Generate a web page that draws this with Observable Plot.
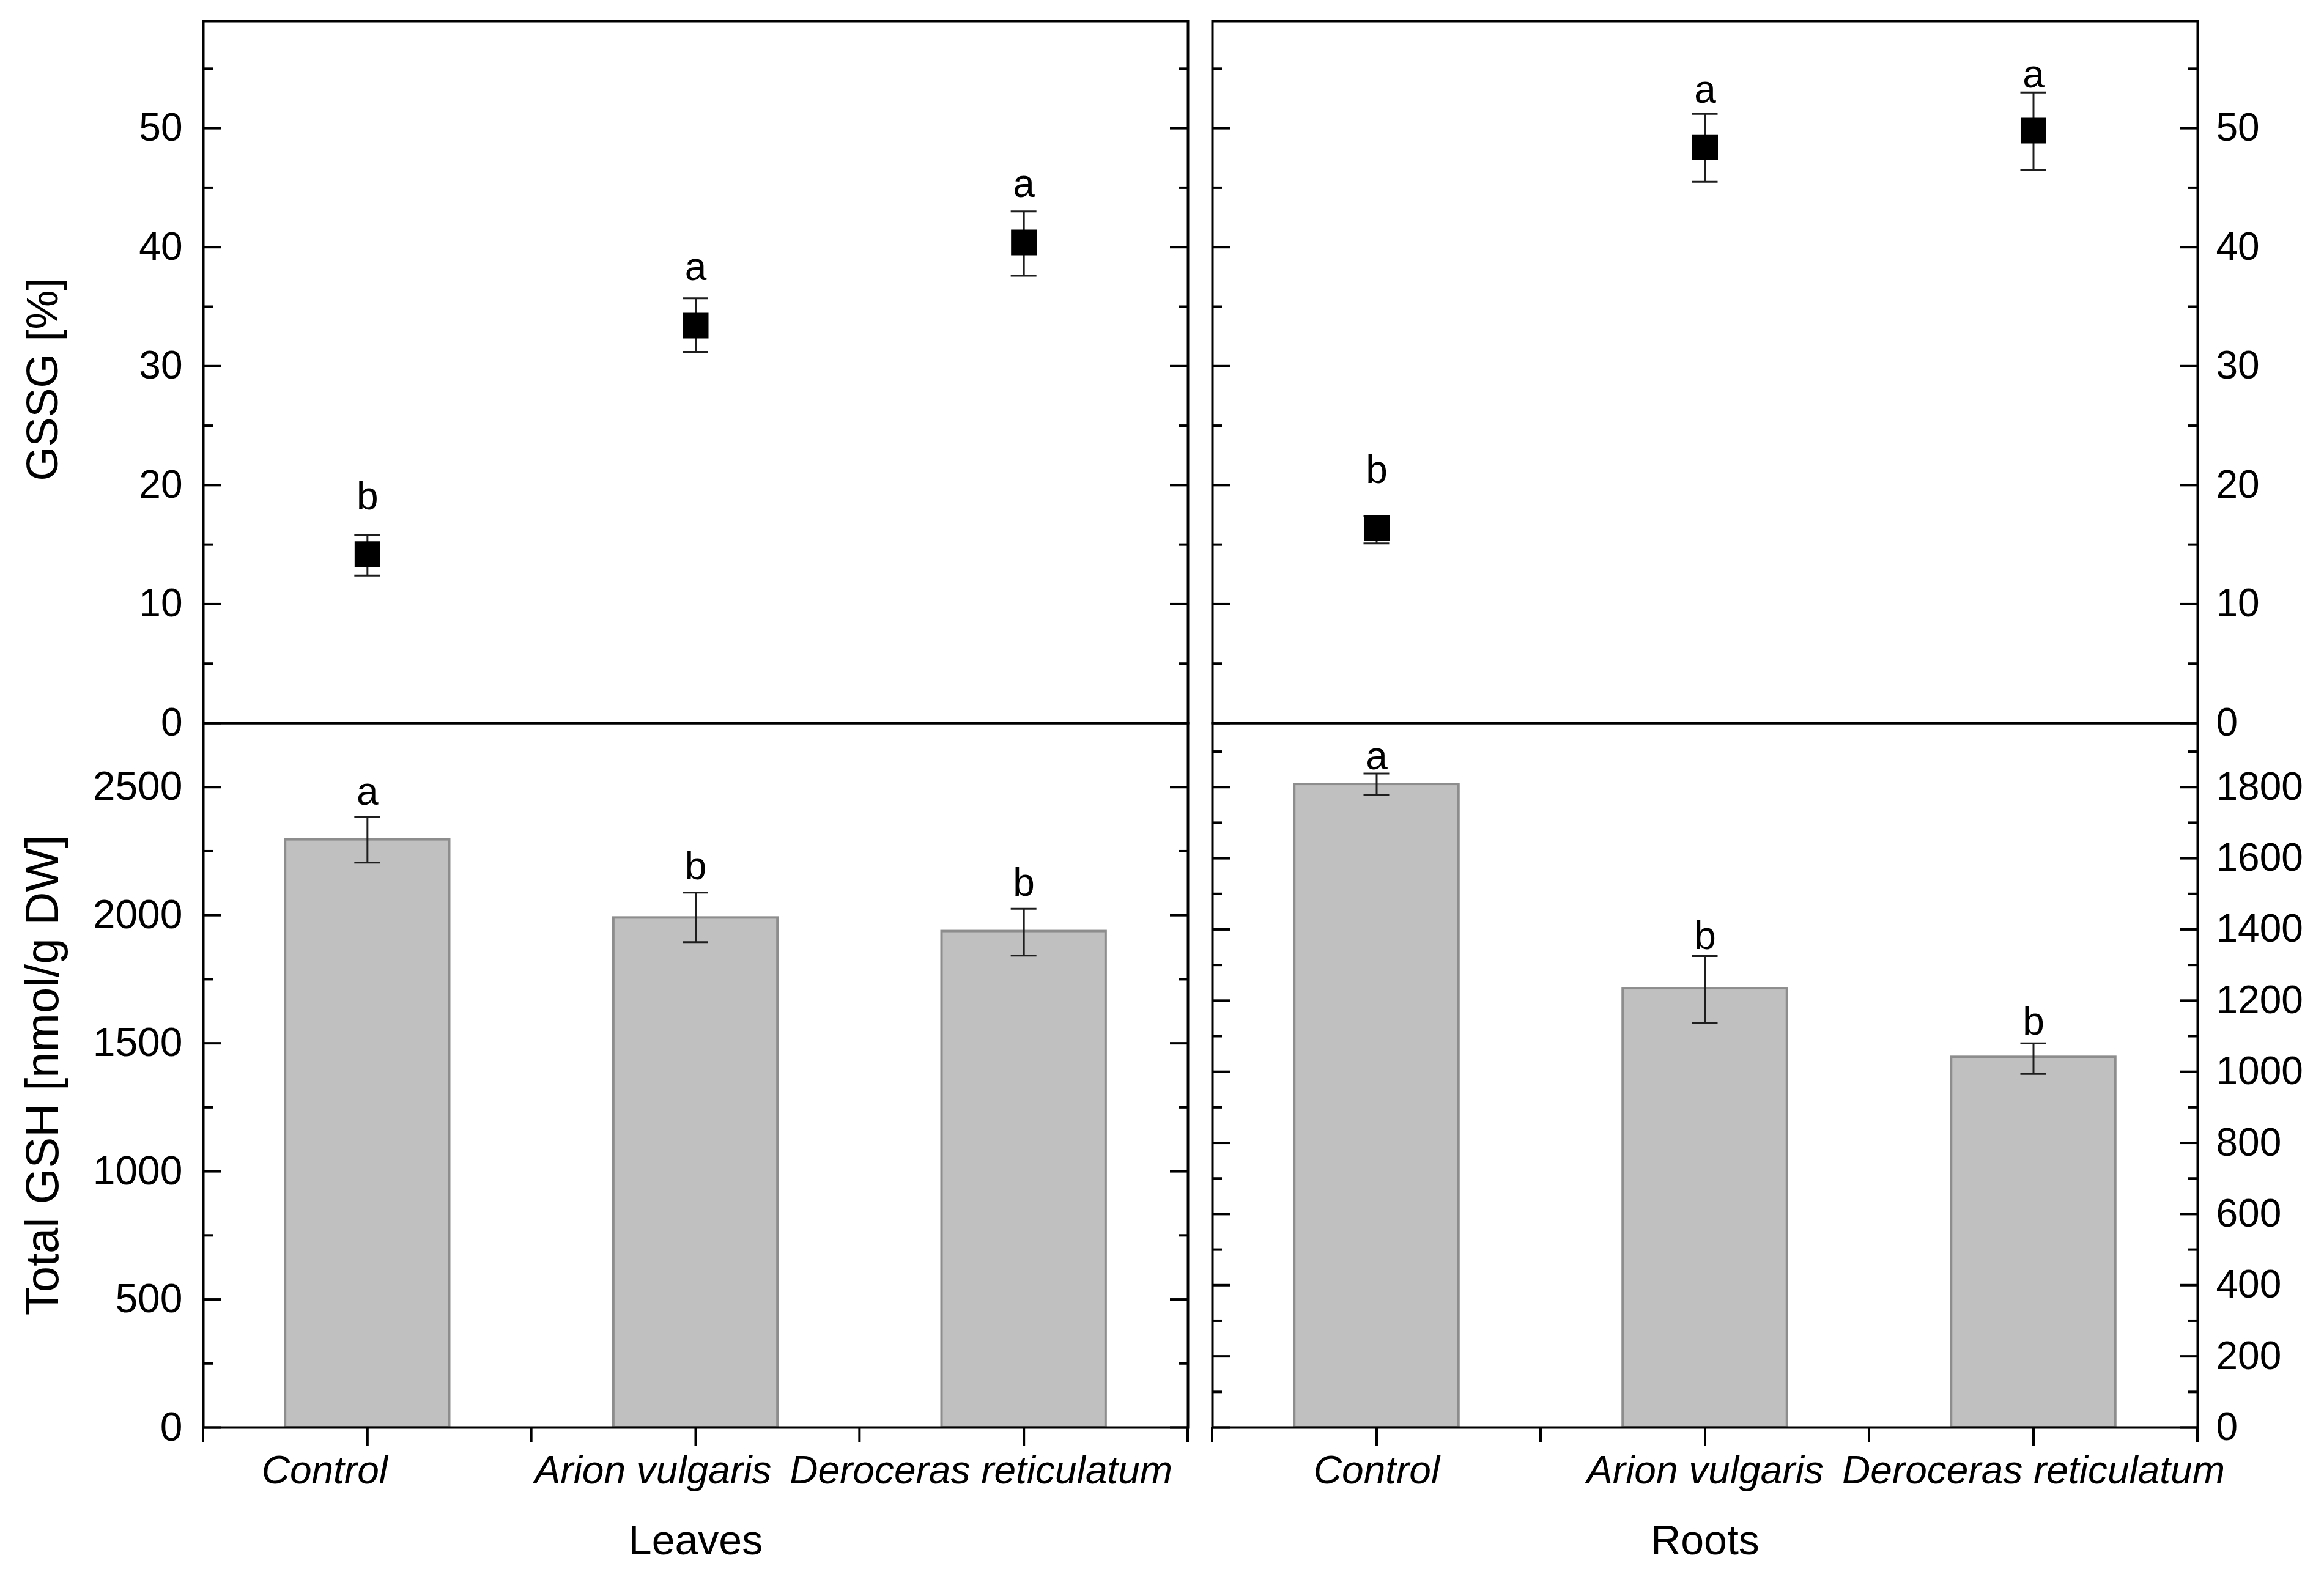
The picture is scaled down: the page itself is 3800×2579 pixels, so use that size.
<!DOCTYPE html>
<html>
<head>
<meta charset="utf-8">
<script src="https://cdn.jsdelivr.net/npm/d3@7"></script>
<script src="https://cdn.jsdelivr.net/npm/@observablehq/plot@0.6"></script>
<style>
  html, body { margin: 0; padding: 0; background: #fff; }
  #fig { position: relative; width: 3800px; height: 2579px; background: #fff; overflow: hidden; }
  #fig svg { position: absolute; }
</style>
</head>
<body>
<div id="fig"></div>
<script>
// ---------- data ----------
const categories = ["Control", "Arion vulgaris", "Deroceras reticulatum"];

// GSSG [%] – leaves (top left)
const gssgLeavesMean = [14.2, 33.4, 40.4];
const gssgLeavesLow  = [12.4, 31.2, 37.6];
const gssgLeavesHigh = [15.8, 35.7, 43.0];
const gssgLeavesLetters = ["b", "a", "a"];
const gssgLeavesLetterAt = [19.0, 38.3, 45.3];

// GSSG [%] – roots (top right)
const gssgRootsMean = [16.4, 48.4, 49.8];
const gssgRootsLow  = [15.1, 45.5, 46.5];
const gssgRootsHigh = [17.4, 51.2, 53.0];
const gssgRootsLetters = ["b", "a", "a"];
const gssgRootsLetterAt = [21.2, 53.2, 54.5];

// Total GSH [nmol/g DW] – leaves (bottom left)
const gshLeavesMean = [2295, 1990, 1937];
const gshLeavesLow  = [2205, 1895, 1842];
const gshLeavesHigh = [2385, 2088, 2025];
const gshLeavesLetters = ["a", "b", "b"];
const gshLeavesLetterAt = [2480, 2189, 2124];

// Total GSH [nmol/g DW] – roots (bottom right)
const gshRootsMean = [1808, 1234, 1041];
const gshRootsLow  = [1778, 1137, 994];
const gshRootsHigh = [1838, 1325, 1080];
const gshRootsLetters = ["a", "b", "b"];
const gshRootsLetterAt = [1886, 1380, 1139];

// axis ticks
const gssgDomain = [0, 59];
const gssgMajor = [0, 10, 20, 30, 40, 50];
const gssgMinor = [5, 15, 25, 35, 45, 55];
const gshLeavesDomain = [0, 2750];
const gshLeavesMajor = [0, 500, 1000, 1500, 2000, 2500];
const gshLeavesMinor = [250, 750, 1250, 1750, 2250];
const gshRootsDomain = [0, 1980];
const gshRootsMajor = [0, 200, 400, 600, 800, 1000, 1200, 1400, 1600, 1800];
const gshRootsMinor = [100, 300, 500, 700, 900, 1100, 1300, 1500, 1700, 1900];

const yTitleTop = "GSSG [%]";
const yTitleBottom = "Total GSH [nmol/g DW]";
const xTitleLeft = "Leaves";
const xTitleRight = "Roots";

// ---------- helpers ----------
const FONT = '"Liberation Sans", Arial, Helvetica, sans-serif';

function table(mean, low, high, letters, letterAt) {
  return categories.map((c, i) => ({cat: c, v: mean[i], lo: low[i], hi: high[i], letter: letters[i], ly: letterAt[i]}));
}

// ticks at the band edges of the category axis (drawn through the x scale)
function edgeTicks(len) {
  return (index, scales, values, dims) => {
    const x = scales.x, bw = x.bandwidth();
    const edges = categories.map(c => x(c));
    edges.push(x(categories[categories.length - 1]) + bw);
    const yb = dims.height - dims.marginBottom;
    const g = d3.create("svg:g").attr("stroke", "#000").attr("stroke-width", 4);
    edges.forEach(e => g.append("line").attr("x1", e).attr("x2", e).attr("y1", yb).attr("y2", yb + len));
    return g.node();
  };
}

function panel(o) {
  const band = (o.width - o.ml - o.mr) / categories.length;
  const capInset = (band - 42) / 2;
  const marks = [];
  if (o.bars) {
    marks.push(Plot.barY(o.data, {x: "cat", y: "v", fill: "#c0c0c0", stroke: "#8d8d8d", strokeWidth: 4,
      insetLeft: band * 0.25, insetRight: band * 0.25}));
  }
  marks.push(Plot.ruleX(o.data, {x: "cat", y1: "lo", y2: "hi", stroke: "#1e1e1e", strokeWidth: 3}));
  marks.push(Plot.tickY(o.data, {x: "cat", y: "hi", stroke: "#1e1e1e", strokeWidth: 3, insetLeft: capInset, insetRight: capInset}));
  marks.push(Plot.tickY(o.data, {x: "cat", y: "lo", stroke: "#1e1e1e", strokeWidth: 3, insetLeft: capInset, insetRight: capInset}));
  if (!o.bars) {
    marks.push(Plot.dot(o.data, {x: "cat", y: "v", symbol: "square", r: 23.7, fill: "#000", stroke: "none"}));
  }
  marks.push(Plot.text(o.data, {x: "cat", y: "ly", text: "letter", fontSize: 64, fill: "#000"}));

  // inward ticks on both vertical borders
  for (const anchor of ["left", "right"]) {
    marks.push(Plot.axisY({anchor, ticks: o.major, tickSize: -30, fill: "none", label: null, stroke: "#000", strokeWidth: 4}));
    marks.push(Plot.axisY({anchor, ticks: o.minor, tickSize: -16, fill: "none", label: null, stroke: "#000", strokeWidth: 4}));
  }
  // tick labels on the outer side
  marks.push(Plot.axisY({anchor: o.side, ticks: o.major, tickSize: 0, tickPadding: o.side === "left" ? 34 : 30,
    tickFormat: d3.format("d"), fontSize: o.tickFont, label: null, fill: "#000"}));

  if (o.xAxis) {
    marks.push(Plot.axisX({anchor: "bottom", tickSize: 30, fill: "none", label: null, stroke: "#000", strokeWidth: 4}));
    marks.push(Plot.axisX({anchor: "bottom", tickSize: 0, tickPadding: 46, fontSize: 64, fontStyle: "italic",
      label: null, fill: "#000", dx: o.xdx}));
    marks.push(edgeTicks(24));
    marks.push(Plot.text([o.xTitle], {frameAnchor: "bottom", lineAnchor: "middle", textAnchor: "middle",
      dy: 186, fontSize: 68, fill: "#000"}));
  }
  if (o.yTitle) {
    marks.push(Plot.text([o.yTitle], {frameAnchor: "left", textAnchor: "middle", lineAnchor: "middle",
      rotate: -90, dx: -262, dy: o.titleDy, fontSize: o.titleFont, fill: "#000"}));
  }
  marks.push(Plot.frame({stroke: "#000", strokeWidth: 4}));

  const svg = Plot.plot({
    width: o.width, height: o.height,
    marginLeft: o.ml, marginRight: o.mr, marginTop: o.mt, marginBottom: o.mb,
    style: {background: "transparent", overflow: "visible", fontFamily: FONT, fontSize: "64px", color: "#000"},
    x: {type: "band", domain: categories, padding: 0, round: false, axis: o.xAxis ? undefined : null},
    y: {domain: o.yDomain},
    marks
  });
  svg.style.left = o.left + "px";
  svg.style.top = o.top + "px";
  document.getElementById("fig").appendChild(svg);
}

// ---------- panels ----------
panel({left: 0, top: 0, width: 1960, height: 1200, ml: 332, mr: 18, mt: 34, mb: 18,
  data: table(gssgLeavesMean, gssgLeavesLow, gssgLeavesHigh, gssgLeavesLetters, gssgLeavesLetterAt),
  bars: false, yDomain: gssgDomain, major: gssgMajor, minor: gssgMinor, side: "left", tickFont: 64,
  yTitle: yTitleTop, titleFont: 72, titleDy: 12, xAxis: false});

panel({left: 1900, top: 0, width: 1900, height: 1200, ml: 82, mr: 207, mt: 34, mb: 18,
  data: table(gssgRootsMean, gssgRootsLow, gssgRootsHigh, gssgRootsLetters, gssgRootsLetterAt),
  bars: false, yDomain: gssgDomain, major: gssgMajor, minor: gssgMinor, side: "right", tickFont: 64, xAxis: false});

panel({left: 0, top: 1150, width: 1960, height: 1429, ml: 332, mr: 18, mt: 32, mb: 245,
  data: table(gshLeavesMean, gshLeavesLow, gshLeavesHigh, gshLeavesLetters, gshLeavesLetterAt),
  bars: true, yDomain: gshLeavesDomain, major: gshLeavesMajor, minor: gshLeavesMinor, side: "left", tickFont: 66,
  yTitle: yTitleBottom, titleFont: 76, titleDy: 0, xAxis: true, xdx: -70, xTitle: xTitleLeft});

panel({left: 1900, top: 1150, width: 1900, height: 1429, ml: 82, mr: 207, mt: 32, mb: 245,
  data: table(gshRootsMean, gshRootsLow, gshRootsHigh, gshRootsLetters, gshRootsLetterAt),
  bars: true, yDomain: gshRootsDomain, major: gshRootsMajor, minor: gshRootsMinor, side: "right", tickFont: 64,
  xAxis: true, xdx: 0, xTitle: xTitleRight});
</script>
</body>
</html>
